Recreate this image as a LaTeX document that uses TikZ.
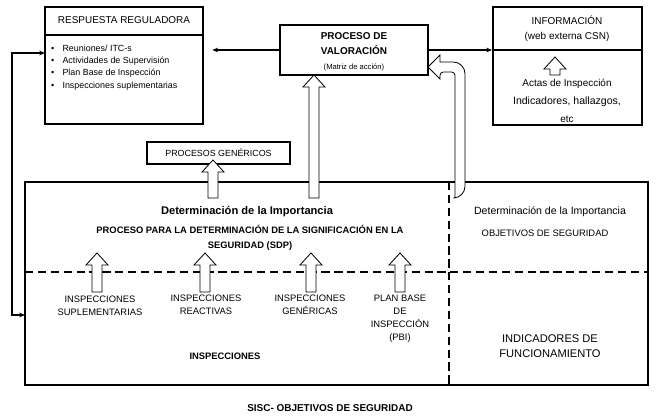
\documentclass[tikz,border=0pt]{standalone}
\usepackage{fontspec}
\setmainfont{Liberation Sans}
\usetikzlibrary{arrows.meta}

\newcommand{\upblock}[2]{%
\draw[block, shift={(#1)}] (-5,#2) -- (-5,12) -- (-11,12) -- (0,0) -- (11,12) -- (5,12) -- (5,#2) -- cycle;}

\begin{document}
\begin{tikzpicture}[x=0.03cm, y=-0.03cm,
  box/.style={draw, line width=1.6pt, inner sep=0pt},
  conn/.style={line width=1.2pt, >={Stealth[length=5pt,width=4pt]}},
  block/.style={draw, fill=white, line width=0.7pt},
  sep/.style={line width=1.4pt, dash pattern=on 7pt off 4pt},
  txt/.style={inner sep=0pt, align=center, font=\fontsize{8}{11}\selectfont},
  small/.style={txt, font=\fontsize{7.6}{9}\selectfont},
  bold/.style={txt, font=\fontsize{8.5}{11}\selectfont\bfseries}]
\useasboundingbox (0,0) rectangle (659,416);

\node[box, minimum width=4.74cm, minimum height=3.51cm] (resp) at (124,65.5) {};
\draw[line width=1.6pt] (45,35) -- (203,35);
\node[box, minimum width=4.44cm, minimum height=1.5cm] (val) at (354,50) {};
\node[box, minimum width=4.47cm, minimum height=3.54cm] (info) at (567.5,66) {};
\draw[line width=1.6pt] (493,50) -- (642,50);
\node[box, minimum width=4.29cm, minimum height=0.66cm] (gen) at (218.5,153) {};
\node[box, minimum width=18.69cm, minimum height=6.09cm] (low) at (336.5,283.5) {};

\draw[sep] (25,272) -- (648,272);
\draw[sep] (449,182) -- (449,385);

\node[txt, font=\fontsize{8.5}{11}\selectfont] (resptitle) at (124,20) {RESPUESTA REGULADORA};
\node[small, anchor=west] (b1) at (51,48) {\textbullet\hspace{7pt}Reuniones/ ITC-s};
\node[small, anchor=west] (b2) at (51,61) {\textbullet\hspace{7pt}Actividades de Supervisión};
\node[small, anchor=west] (b3) at (51,73) {\textbullet\hspace{7pt}Plan Base de Inspección};
\node[small, anchor=west] (b4) at (51,86) {\textbullet\hspace{7pt}Inspecciones suplementarias};

\node[bold] (val1) at (354,36) {PROCESO DE};
\node[bold] (val2) at (354,50) {VALORACIÓN};
\node[txt, font=\fontsize{6.5}{8}\selectfont] (val3) at (354,67) {(Matriz de acción)};

\node[txt, font=\fontsize{8.5}{11}\selectfont] (info1) at (567,20) {INFORMACIÓN};
\node[txt, font=\fontsize{8.5}{11}\selectfont] (info2) at (567,37) {(web externa CSN)};
\node[txt, font=\fontsize{8.5}{11}\selectfont] (info3) at (567,84) {Actas de Inspección};
\node[txt, font=\fontsize{9}{11}\selectfont] (info4) at (567,102) {Indicadores, hallazgos,};
\node[txt, font=\fontsize{8.5}{11}\selectfont] (info5) at (567,119) {etc};

\node[txt, font=\fontsize{7.6}{9}\selectfont] (gentxt) at (218.5,153) {PROCESOS GENÉRICOS};

\draw[conn, ->, shorten >=0.25cm] (val.west) -- (val.west -| resp.east);
\draw[conn, ->] (val.east) -- (val.east -| info.west);
\coordinate (lin) at (25,315);
\coordinate (rin) at (45,53);
\draw[conn, <->] (lin) -- ++(-13,0) |- (rin);

\upblock{555,57}{18}
\upblock{213,160}{38}
\upblock{314,75}{123}
\draw[block] (455,198) [rounded corners=0.1cm] -- (455,72) -- (440,72) [sharp corners] -- (440,79) -- (428,67) -- (440,55) -- (440,62) [rounded corners=0.35cm] -- (465,62) -- (465,198) [sharp corners] -- cycle;

\upblock{97,253}{39}
\upblock{205,253}{39}
\upblock{311,253}{39}
\upblock{400,253}{39}

\node[txt, font=\fontsize{9.5}{11}\selectfont\bfseries] (det1) at (247,212) {Determinación de la Importancia};
\node[txt, font=\fontsize{8}{12.5}\selectfont\bfseries] (sdp) at (250,238) {PROCESO PARA LA DETERMINACIÓN DE LA SIGNIFICACIÓN EN LA\\SEGURIDAD (SDP)};
\node[txt, font=\fontsize{9}{11}\selectfont] (det2) at (550,212) {Determinación de la Importancia};
\node[txt] (obj) at (545,233) {OBJETIVOS DE SEGURIDAD};

\node[txt] (isup) at (100,306) {INSPECCIONES\\SUPLEMENTARIAS};
\node[txt] (ireac) at (206,305) {INSPECCIONES\\REACTIVAS};
\node[txt] (igen) at (310,305) {INSPECCIONES\\GENÉRICAS};
\node[txt] (pbi) at (400,319) {PLAN BASE\\DE\\INSPECCIÓN\\(PBI)};

\node[txt, font=\fontsize{8}{11}\selectfont\bfseries] (insp) at (225,356) {INSPECCIONES};
\node[txt, font=\fontsize{9.5}{12.5}\selectfont] (ind) at (550,346) {INDICADORES DE\\FUNCIONAMIENTO};
\node[bold] (sisc) at (330,408) {SISC- OBJETIVOS DE SEGURIDAD};
\end{tikzpicture}
\end{document}
